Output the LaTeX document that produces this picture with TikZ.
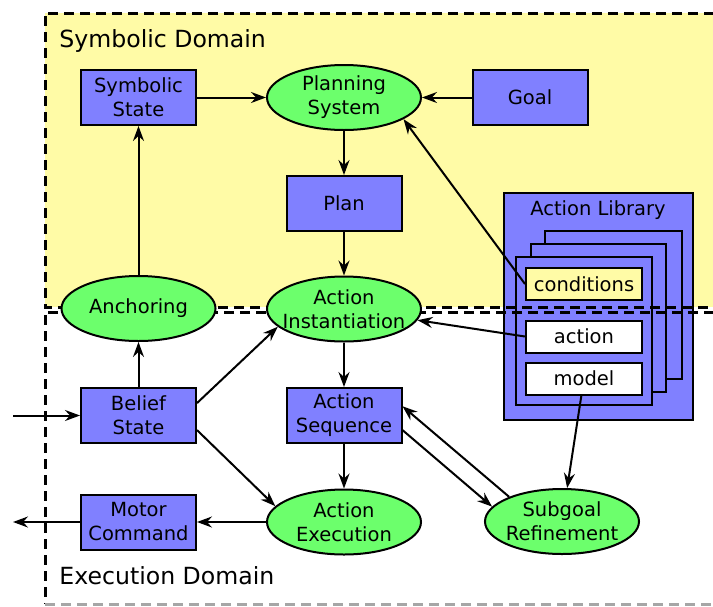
\documentclass[tikz,border=0pt]{standalone}
\usepackage{fontspec}
\setmainfont{DejaVu Sans}
\usetikzlibrary{shapes.geometric,arrows.meta}
\definecolor{symyellow}{RGB}{255,251,166}
\definecolor{boxblue}{RGB}{128,128,255}
\definecolor{ellgreen}{RGB}{108,255,108}
\tikzset{
  box/.style={draw, line width=1pt, fill=boxblue, minimum width=57.5pt, minimum height=27.5pt, inner sep=0pt, align=center},
  ell/.style={ellipse, draw, line width=1pt, fill=ellgreen, minimum width=77pt, minimum height=32.5pt, inner xsep=-10pt, inner ysep=-4pt, align=center},
  libitem/.style={draw, line width=1pt, minimum width=58pt, minimum height=16pt, inner sep=0pt},
  card/.style={draw, line width=1pt, fill=boxblue},
  arr/.style={line width=1pt, -{Stealth[length=7.5pt,width=5.5pt,inset=2.5pt]}},
  frame/.style={line width=1.5pt, dash pattern=on 5pt off 3pt},
  title/.style={anchor=base west, inner sep=0pt, font=\fontsize{11.8}{14}\selectfont},
}
\begin{document}
\begin{tikzpicture}[x=0.5pt,y=-0.5pt,font=\fontsize{9.75}{12}\selectfont]
\clip (0,0) rectangle (713,606);
% domains fills
\fill[symyellow] (45,13) rectangle (730,307);
\fill[white] (45,312) rectangle (730,604);
% action library
\node[draw, line width=1pt, fill=boxblue, minimum width=94.5pt, minimum height=113.5pt, inner sep=0pt] (lib) at (598.5,306.5) {};
\node (libtitle) at (598,210) {Action Library};
\draw[card] (545,231) rectangle (682,379);
\draw[card] (531,244) rectangle (666,392);
\draw[card] (516,257) rectangle (652,405);
\node[libitem, fill=symyellow] (cond) at (584,284) {conditions};
\node[libitem, fill=white] (action) at (584,336.5) {action};
\node[libitem, fill=white] (model) at (584,378.5) {model};
% dashed frames
\draw[frame] (730,13) -- (45,13) -- (45,307) -- (730,307);
\draw[frame] (730,312) -- (45,312) -- (45,604);
\draw[frame, gray!70] (45,604) -- (730,604);
\node[title] (symtitle) at (59,47) {Symbolic Domain};
\node[title] (exectitle) at (59,584) {Execution Domain};
% nodes
\node[box] (sym) at (138.5,97.5) {Symbolic\\State};
\node[ell] (plan) at (344,97.5) {Planning\\System};
\node[box] (goal) at (530,97.5) {Goal};
\node[box] (planbox) at (344,203.5) {Plan};
\node[ell] (anch) at (138.5,308.5) {Anchoring};
\node[ell] (inst) at (344,309) {Action\\Instantiation};
\node[box] (belief) at (138.5,415.5) {Belief\\State};
\node[box] (seq) at (344,415.5) {Action\\Sequence};
\node[box] (motor) at (138.5,522) {Motor\\Command};
\node[ell] (exec) at (344,522) {Action\\Execution};
\node[ell] (sub) at (562,521.5) {Subgoal\\Refinement};
\coordinate (inp) at (13,415.5);
\coordinate (outp) at (13,522);
% connectors
\draw[arr] (sym) -- (plan);
\draw[arr] (goal) -- (plan);
\draw[arr] (plan) -- (planbox);
\draw[arr] (planbox) -- (inst);
\draw[arr] (anch) -- (sym);
\draw[arr] (belief) -- (anch);
\draw[arr] (cond.west) -- (plan.-20);
\draw[arr] (action.west) -- (inst);
\draw[arr] (belief.12) -- (inst.-165);
\draw[arr] (belief.-14) -- (exec.167);
\draw[arr] (inst) -- (seq);
\draw[arr] (seq) -- (exec);
\draw[arr] (seq.-14) -- (sub.168);
\draw[arr] (sub.155) -- (seq.9);
\draw[arr] (model) -- (sub);
\draw[arr] (exec) -- (motor);
\draw[arr] (motor) -- (outp);
\draw[arr] (inp) -- (belief);
\end{tikzpicture}
\end{document}
